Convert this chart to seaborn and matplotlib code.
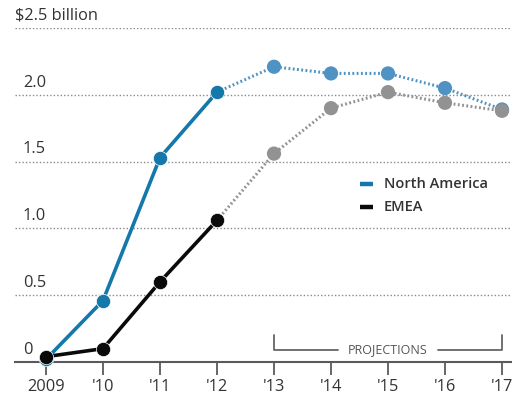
import matplotlib
matplotlib.use("Agg")
import matplotlib.pyplot as plt
import matplotlib.transforms as mtransforms
import seaborn as sns
import pandas as pd

# Revenue by region, $ billion (2013 onward are projections)
years = [2009, 2010, 2011, 2012, 2013, 2014, 2015, 2016, 2017]
year_labels = ["2009", "'10", "'11", "'12", "'13", "'14", "'15", "'16", "'17"]
north_america = [0.02, 0.46, 1.53, 2.02, 2.21, 2.16, 2.16, 2.05, 1.89]
emea = [0.04, 0.10, 0.60, 1.06, 1.56, 1.90, 2.02, 1.94, 1.88]
last_actual_year = 2012
y_ticks = [0, 0.5, 1.0, 1.5, 2.0, 2.5]
y_tick_labels = ["0", "0.5", "1.0", "1.5", "2.0", "$2.5 billion"]

sns.set_theme(style="white")
plt.rcParams["font.family"] = ["Open Sans", "DejaVu Sans"]

df = pd.DataFrame({
    "year": years * 2,
    "value": north_america + emea,
    "region": ["North America"] * len(years) + ["EMEA"] * len(years),
})
df["actual"] = df["year"] <= last_actual_year
df["projected"] = df["year"] >= last_actual_year

fig = plt.figure(figsize=(5.12, 4.0), dpi=100)
ax = fig.add_axes([15 / 512, 38 / 400, 497 / 512, 334 / 400])

solid_colors = {"North America": "#1479aa", "EMEA": "#0a0a0a"}
proj_colors = {"North America": "#4f93c4", "EMEA": "#929292"}

# Projected segments: dotted, lighter tone
for region in ["North America", "EMEA"]:
    sub = df[(df.region == region) & df.projected]
    sns.lineplot(data=sub, x="year", y="value", ax=ax, color=proj_colors[region],
                 linewidth=2.2, linestyle=(0, (0.6, 0.8)), dash_capstyle="butt",
                 legend=False)
    pts = sub[sub.year > last_actual_year]
    sns.scatterplot(data=pts, x="year", y="value", ax=ax, color=proj_colors[region],
                    s=105, edgecolor="none", zorder=4, legend=False, clip_on=False)

# Actual segments: solid
for region in ["North America", "EMEA"]:
    sub = df[(df.region == region) & df.actual]
    sns.lineplot(data=sub, x="year", y="value", ax=ax, color=solid_colors[region],
                 linewidth=2.6, legend=False)
    sns.scatterplot(data=sub, x="year", y="value", ax=ax, color=solid_colors[region],
                    s=105, edgecolor="white", linewidth=0.5, zorder=5, legend=False,
                    clip_on=False)

ax.set_xlim(2009 - 31 / 57, 2017 + 10 / 57)
ax.set_ylim(0, 2.5)

# Dotted horizontal gridlines
for v in y_ticks[1:]:
    ax.axhline(v, color="#8a8a8a", linewidth=1.0, linestyle=(0, (1, 1.5)), zorder=0)

# Baseline
for side in ["left", "right", "top"]:
    ax.spines[side].set_visible(False)
ax.spines["bottom"].set_color("#5a5a5a")
ax.spines["bottom"].set_linewidth(1.5)

ax.set_xticks(years)
ax.set_xticklabels(year_labels, fontsize=11.8, color="#333333")
ax.tick_params(axis="x", direction="out", length=9, width=1.3, color="#5a5a5a", pad=3,
               bottom=True)
ax.set_yticks([])
ax.set_xlabel("")
ax.set_ylabel("")

# Y labels sit just above their gridlines
offset = mtransforms.offset_copy(ax.get_yaxis_transform(), fig=fig, x=0, y=3, units="points")
for v, lab in zip(y_ticks, y_tick_labels):
    x0 = 0.0 if lab.startswith("$") else 0.016
    ax.text(x0, v, lab, transform=offset, ha="left", va="bottom",
            fontsize=11.8, color="#333333")

# Legend
legend_items = [("North America", solid_colors["North America"], 1.335),
                ("EMEA", solid_colors["EMEA"], 1.16)]
for name, col, yv in legend_items:
    ax.plot([2014.5, 2014.73], [yv, yv], color=col, linewidth=3.2, solid_capstyle="butt")
    ax.text(2014.93, yv, name, ha="left", va="center", fontsize=10.5, color="#333333",
            fontweight="semibold")

# Projections bracket
by, ty = 0.09, 0.2
bc = "#666666"
ax.plot([2013, 2013, 2014.13], [ty, by, by], color=bc, linewidth=1.3)
ax.plot([2015.88, 2017, 2017], [by, by, ty], color=bc, linewidth=1.3)
ax.text(2015.0, by, "PROJECTIONS", ha="center", va="center", fontsize=9, color="#555555")

fig.savefig("out.png", dpi=100)
